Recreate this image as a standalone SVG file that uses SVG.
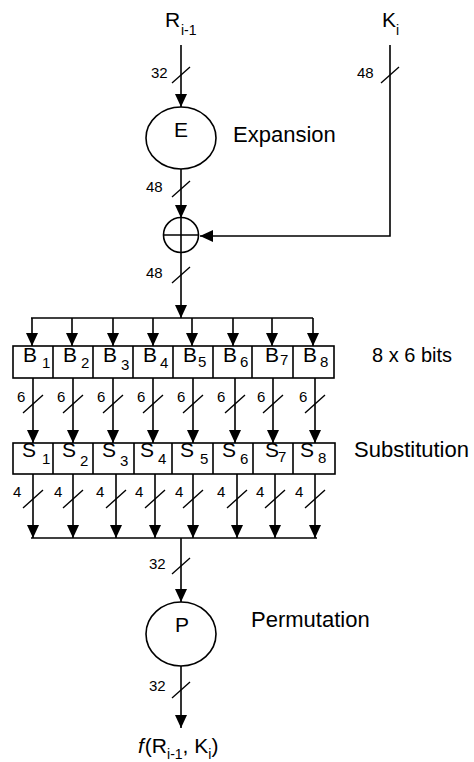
<svg xmlns="http://www.w3.org/2000/svg" width="474" height="762" viewBox="0 0 474 762">
<style>
.l{stroke:#000;stroke-width:1.6;fill:none}
.a{stroke:#000;stroke-width:1.6;fill:none;marker-end:url(#ah)}
.s{stroke:#000;stroke-width:1.4}
.n{stroke:#000;stroke-width:1.6;fill:#fff}
text{font-family:"Liberation Sans",Arial,sans-serif;fill:#000}
.big{font-size:21px}
.sub{font-size:14px}
.bs{font-size:15px}
.lab{font-size:22px}
.num{font-size:15px}
</style>
<defs>
<marker id="ah" markerUnits="userSpaceOnUse" markerWidth="14" markerHeight="14" viewBox="0 0 14 14" refX="13" refY="7" orient="auto">
<path d="M0,1 L13,7 L0,13 Z" fill="#000"/>
</marker>
</defs>
<g id="connectors">
<line class="a" x1="181" y1="45" x2="181" y2="107"/>
<line class="a" x1="181" y1="169" x2="181" y2="218"/>
<polyline class="a" points="390,45 390,236 200,236"/>
<line class="a" x1="181" y1="253" x2="181" y2="318"/>
<line class="l" x1="31" y1="318" x2="313" y2="318"/>
<line class="a" x1="32" y1="318" x2="32" y2="346"/>
<line class="a" x1="72" y1="318" x2="72" y2="346"/>
<line class="a" x1="113" y1="318" x2="113" y2="346"/>
<line class="a" x1="153" y1="318" x2="153" y2="346"/>
<line class="a" x1="192" y1="318" x2="192" y2="346"/>
<line class="a" x1="233" y1="318" x2="233" y2="346"/>
<line class="a" x1="272" y1="318" x2="272" y2="346"/>
<line class="a" x1="313" y1="318" x2="313" y2="346"/>
<line class="a" x1="33" y1="378" x2="33" y2="443"/>
<line class="a" x1="73" y1="378" x2="73" y2="443"/>
<line class="a" x1="113" y1="378" x2="113" y2="443"/>
<line class="a" x1="153" y1="378" x2="153" y2="443"/>
<line class="a" x1="193" y1="378" x2="193" y2="443"/>
<line class="a" x1="235" y1="378" x2="235" y2="443"/>
<line class="a" x1="273" y1="378" x2="273" y2="443"/>
<line class="a" x1="315" y1="378" x2="315" y2="443"/>
<line class="a" x1="33" y1="474" x2="33" y2="538"/>
<line class="a" x1="73" y1="474" x2="73" y2="538"/>
<line class="a" x1="116" y1="474" x2="116" y2="538"/>
<line class="a" x1="155" y1="474" x2="155" y2="538"/>
<line class="a" x1="193" y1="474" x2="193" y2="538"/>
<line class="a" x1="237" y1="474" x2="237" y2="538"/>
<line class="a" x1="275" y1="474" x2="275" y2="538"/>
<line class="a" x1="315" y1="474" x2="315" y2="538"/>
<line class="l" x1="31" y1="538" x2="317" y2="538"/>
<line class="a" x1="181" y1="538" x2="181" y2="602"/>
<line class="a" x1="181" y1="666" x2="181" y2="728"/>
<g class="s">
<line x1="172" y1="83" x2="190" y2="67"/>
<line x1="381" y1="83" x2="399" y2="67"/>
<line x1="172" y1="197" x2="190" y2="181"/>
<line x1="172" y1="283" x2="190" y2="267"/>
<line x1="172" y1="574" x2="190" y2="558"/>
<line x1="172" y1="698" x2="190" y2="682"/>
<line x1="23" y1="413" x2="43" y2="395"/>
<line x1="63" y1="413" x2="83" y2="395"/>
<line x1="103" y1="413" x2="123" y2="395"/>
<line x1="143" y1="413" x2="163" y2="395"/>
<line x1="183" y1="413" x2="203" y2="395"/>
<line x1="225" y1="413" x2="245" y2="395"/>
<line x1="263" y1="413" x2="283" y2="395"/>
<line x1="305" y1="413" x2="325" y2="395"/>
<line x1="23" y1="508" x2="43" y2="490"/>
<line x1="63" y1="508" x2="83" y2="490"/>
<line x1="106" y1="508" x2="126" y2="490"/>
<line x1="145" y1="508" x2="165" y2="490"/>
<line x1="183" y1="508" x2="203" y2="490"/>
<line x1="227" y1="508" x2="247" y2="490"/>
<line x1="265" y1="508" x2="285" y2="490"/>
<line x1="305" y1="508" x2="325" y2="490"/>
</g>
<g class="num">
<text x="151" y="78">32</text>
<text x="357" y="78">48</text>
<text x="146" y="192">48</text>
<text x="146" y="278">48</text>
<text x="149" y="569">32</text>
<text x="149" y="691">32</text>
<text x="17" y="402">6</text>
<text x="57" y="402">6</text>
<text x="97" y="402">6</text>
<text x="137" y="402">6</text>
<text x="177" y="402">6</text>
<text x="217" y="402">6</text>
<text x="257" y="402">6</text>
<text x="299" y="402">6</text>
<text x="13" y="497">4</text>
<text x="54" y="497">4</text>
<text x="96" y="497">4</text>
<text x="135" y="497">4</text>
<text x="175" y="497">4</text>
<text x="217" y="497">4</text>
<text x="256" y="497">4</text>
<text x="295" y="497">4</text>
</g>
</g>
<g id="input-R">
<text class="big" x="165" y="27">R</text><text class="sub" x="181" y="35">i-1</text>
</g>
<g id="input-K">
<text class="big" x="382" y="27">K</text><text class="sub" x="396" y="35">i</text>
</g>
<g id="expansion">
<ellipse class="n" cx="181" cy="138" rx="35" ry="31"/>
<text class="big" x="181" y="137" text-anchor="middle">E</text>
<text class="lab" x="233" y="142">Expansion</text>
</g>
<g id="xor">
<circle class="n" cx="181" cy="235" r="17.5"/>
<line class="l" x1="163.5" y1="235" x2="198.5" y2="235"/>
<line class="l" x1="181" y1="217.5" x2="181" y2="252.5"/>
</g>
<g id="B-boxes">
<rect class="n" x="13" y="346" width="321" height="32"/>
<g class="l">
<line x1="53" y1="346" x2="53" y2="378"/><line x1="93" y1="346" x2="93" y2="378"/>
<line x1="133" y1="346" x2="133" y2="378"/><line x1="173" y1="346" x2="173" y2="378"/>
<line x1="213" y1="346" x2="213" y2="378"/><line x1="252" y1="346" x2="252" y2="378"/>
<line x1="293" y1="346" x2="293" y2="378"/>
</g>
<text class="big" x="23" y="362">B</text><text class="bs" x="42" y="368">1</text>
<text class="big" x="63" y="362">B</text><text class="bs" x="81" y="368">2</text>
<text class="big" x="103" y="362">B</text><text class="bs" x="121" y="370">3</text>
<text class="big" x="143" y="362">B</text><text class="bs" x="160" y="368">4</text>
<text class="big" x="183" y="362">B</text><text class="bs" x="198" y="367">5</text>
<text class="big" x="223" y="362">B</text><text class="bs" x="240" y="367">6</text>
<text class="big" x="265" y="362">B</text><text class="bs" x="280" y="365">7</text>
<text class="big" x="303" y="362">B</text><text class="bs" x="320" y="367">8</text>
<text x="372" y="362" font-size="20">8 x 6 bits</text>
</g>
<g id="S-boxes">
<rect class="n" x="13" y="443" width="322" height="31"/>
<g class="l">
<line x1="53" y1="443" x2="53" y2="474"/><line x1="93" y1="443" x2="93" y2="474"/>
<line x1="134" y1="443" x2="134" y2="474"/><line x1="172" y1="443" x2="172" y2="474"/>
<line x1="213" y1="443" x2="213" y2="474"/><line x1="253" y1="443" x2="253" y2="474"/>
<line x1="293" y1="443" x2="293" y2="474"/>
</g>
<text class="big" x="22" y="457">S</text><text class="bs" x="42" y="464">1</text>
<text class="big" x="62" y="457">S</text><text class="bs" x="80" y="466">2</text>
<text class="big" x="102" y="457">S</text><text class="bs" x="120" y="466">3</text>
<text class="big" x="140" y="457">S</text><text class="bs" x="158" y="464">4</text>
<text class="big" x="180" y="457">S</text><text class="bs" x="200" y="464">5</text>
<text class="big" x="222" y="457">S</text><text class="bs" x="240" y="464">6</text>
<text class="big" x="265" y="457">S</text><text class="bs" x="278" y="462">7</text>
<text class="big" x="300" y="457">S</text><text class="bs" x="318" y="463">8</text>
<text class="lab" x="354" y="457">Substitution</text>
</g>
<g id="permutation">
<ellipse class="n" cx="181" cy="634" rx="35" ry="32"/>
<text class="big" x="182" y="632" text-anchor="middle">P</text>
<text class="lab" x="251" y="627">Permutation</text>
</g>
<g id="output">
<text class="big" x="138" y="753"><tspan font-style="italic">f</tspan><tspan dx="1">(R</tspan><tspan dy="6" font-size="14">i-1</tspan><tspan dy="-6">, K</tspan><tspan dy="6" font-size="14">i</tspan><tspan dy="-6">)</tspan></text>
</g>
</svg>
